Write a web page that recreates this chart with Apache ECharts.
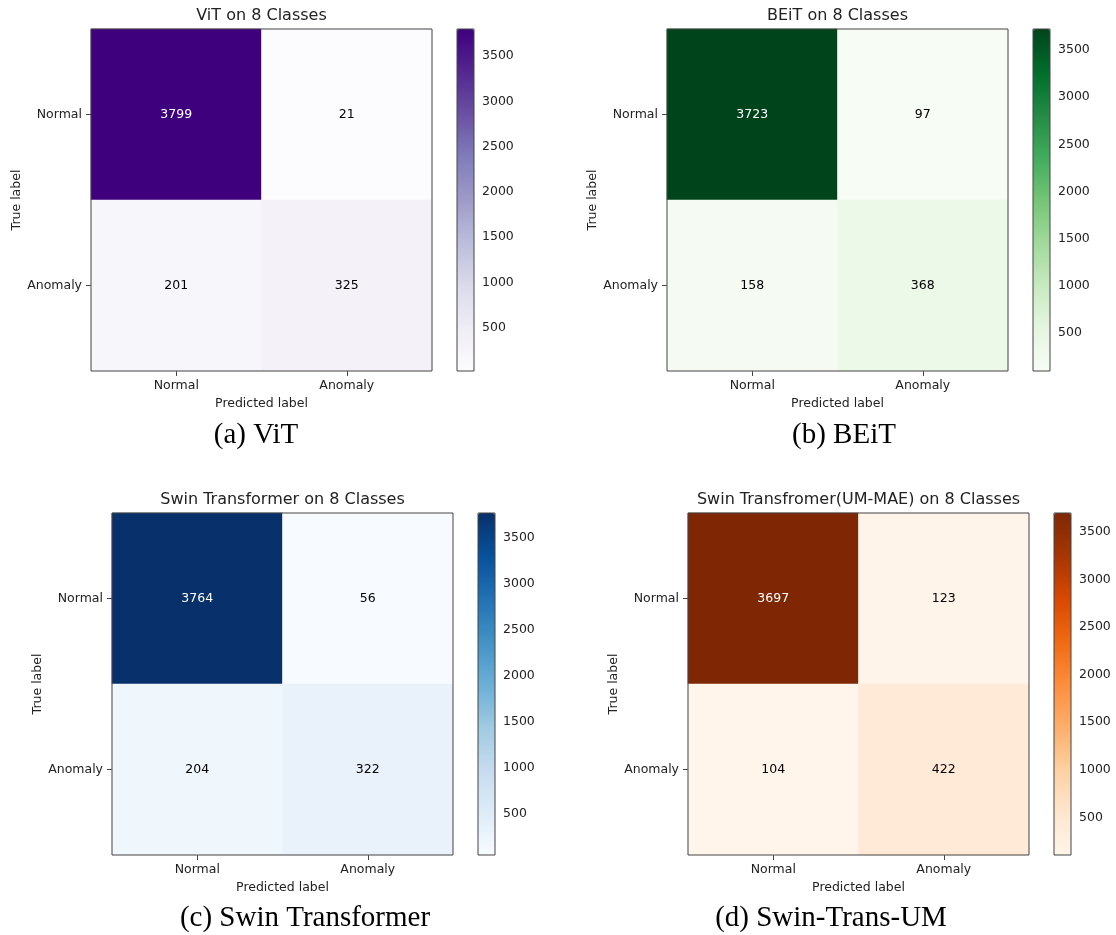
<!DOCTYPE html>
<html>
<head>
<meta charset="utf-8">
<script src="https://cdn.jsdelivr.net/npm/echarts@6/dist/echarts.min.js"></script>
<style>
  html, body { margin: 0; padding: 0; background: #fff; }
  #chart { width: 1116px; height: 935px; }
</style>
</head>
<body>
<div id="chart"></div>
<script>
// ---- data ----
const categories = ['Normal', 'Anomaly'];
const vitValues = [[3799, 21], [201, 325]];
const beitValues = [[3723, 97], [158, 368]];
const swinValues = [[3764, 56], [204, 322]];
const swinUmValues = [[3697, 123], [104, 422]];
const chartTitles = ['ViT on 8 Classes', 'BEiT on 8 Classes', 'Swin Transformer on 8 Classes', 'Swin Transfromer(UM-MAE) on 8 Classes'];
const captions = ['(a) ViT', '(b) BEiT', '(c) Swin Transformer', '(d) Swin-Trans-UM'];
const colorbarTicks = [500, 1000, 1500, 2000, 2500, 3000, 3500];
const xAxisName = 'Predicted label';
const yAxisName = 'True label';

// ---- colormaps (matplotlib Purples, Greens, Blues, Oranges) ----
const cmaps = [
  ['#fcfbfd','#efedf5','#dadaeb','#bcbddc','#9e9ac8','#807dba','#6a51a3','#54278f','#3f007d'],
  ['#f7fcf5','#e5f5e0','#c7e9c0','#a1d99b','#74c476','#41ab5d','#238b45','#006d2c','#00441b'],
  ['#f7fbff','#deebf7','#c6dbef','#9ecae1','#6baed6','#4292c6','#2171b5','#08519c','#08306b'],
  ['#fff5eb','#fee6ce','#fdd0a2','#fdae6b','#fd8d3c','#f16913','#d94801','#a63603','#7f2704']
];

// ---- layout ----
const panels = [
  { left: 91, top: 29, capX: 256, capY: 421 },
  { left: 667, top: 29, capX: 844, capY: 421 },
  { left: 112, top: 513, capX: 305, capY: 904 },
  { left: 688, top: 513, capX: 831, capY: 904 }
];
const PW = 341, PH = 342, CB_GAP = 25, CB_W = 17;
const FONT = 'DejaVu Sans';
const FS = 12.5;
const TXT = '#222';
const EDGE = '#444';

const allValues = [vitValues, beitValues, swinValues, swinUmValues];

const grid = [], xAxis = [], yAxis = [], series = [], visualMap = [], title = [];

allValues.forEach((mat, i) => {
  const p = panels[i];
  const flat = mat.flat();
  const vmin = Math.min(...flat), vmax = Math.max(...flat);
  const mid = (vmin + vmax) / 2;

  grid.push({ left: p.left, top: p.top, width: PW, height: PH, show: true, borderColor: EDGE, borderWidth: 1, backgroundColor: 'transparent', z: 5 });
  grid.push({ left: p.left + PW + CB_GAP, top: p.top, width: CB_W, height: PH, show: true, borderColor: EDGE, borderWidth: 1, backgroundColor: 'transparent', z: 5 });

  const gH = 2 * i, gC = 2 * i + 1;

  xAxis.push({
    type: 'category', gridIndex: gH, data: categories, position: 'bottom',
    name: xAxisName, nameLocation: 'middle', nameGap: 26,
    nameTextStyle: { fontFamily: FONT, fontSize: FS, color: TXT },
    axisLine: { show: false },
    axisTick: { show: true, alignWithLabel: true, length: 5, lineStyle: { color: EDGE } },
    axisLabel: { fontFamily: FONT, fontSize: FS, color: TXT, margin: 8 },
    splitLine: { show: false }, splitArea: { show: false }
  });
  xAxis.push({ type: 'value', gridIndex: gC, show: false, min: 0, max: 1 });

  yAxis.push({
    type: 'category', gridIndex: gH, data: categories, inverse: true, position: 'left',
    name: yAxisName, nameLocation: 'middle', nameGap: 67,
    nameTextStyle: { fontFamily: FONT, fontSize: FS, color: TXT },
    axisLine: { show: false },
    axisTick: { show: true, alignWithLabel: true, length: 5, lineStyle: { color: EDGE } },
    axisLabel: { fontFamily: FONT, fontSize: FS, color: TXT, margin: 9 },
    splitLine: { show: false }, splitArea: { show: false }
  });
  yAxis.push({
    type: 'value', gridIndex: gC, position: 'right', min: vmin, max: vmax,
    axisLine: { show: false },
    splitLine: { show: false },
    axisTick: { show: true, length: 4, lineStyle: { color: EDGE }, customValues: colorbarTicks },
    axisLabel: { fontFamily: FONT, fontSize: FS, color: TXT, margin: 8, customValues: colorbarTicks,
                 formatter: v => String(v) }
  });

  const data = [];
  mat.forEach((row, r) => row.forEach((v, c) => {
    data.push({ value: [c, r, v], label: { color: v > mid ? '#fff' : '#000' } });
  }));

  series.push({
    type: 'heatmap', xAxisIndex: gH, yAxisIndex: gH, data: data,
    label: { show: true, fontFamily: FONT, fontSize: FS },
    itemStyle: { borderWidth: 0 },
    emphasis: { disabled: true },
    z: 2
  });

  visualMap.push({
    type: 'continuous', seriesIndex: i, min: vmin, max: vmax,
    show: true, calculable: false, realtime: false, hoverLink: false,
    orient: 'vertical', left: p.left + PW + CB_GAP, top: p.top,
    itemWidth: CB_W, itemHeight: PH, padding: 0, text: null, showLabel: false,
    inRange: { color: cmaps[i] },
    z: 4
  });

  title.push({
    text: chartTitles[i], left: p.left + PW / 2, top: p.top - 21, textAlign: 'center', padding: 0,
    textStyle: { fontFamily: FONT, fontSize: 16, fontWeight: 'normal', color: TXT }
  });
  title.push({
    text: captions[i], left: p.capX, top: p.capY, textAlign: 'center', padding: 0,
    textStyle: { fontFamily: 'Liberation Serif', fontSize: 29, fontWeight: 'normal', color: '#000' }
  });
});

const chart = echarts.init(document.getElementById('chart'), null, { renderer: 'canvas' });
chart.setOption({
  backgroundColor: '#fff',
  animation: false,
  title, grid, xAxis, yAxis, visualMap, series
});
</script>
</body>
</html>
